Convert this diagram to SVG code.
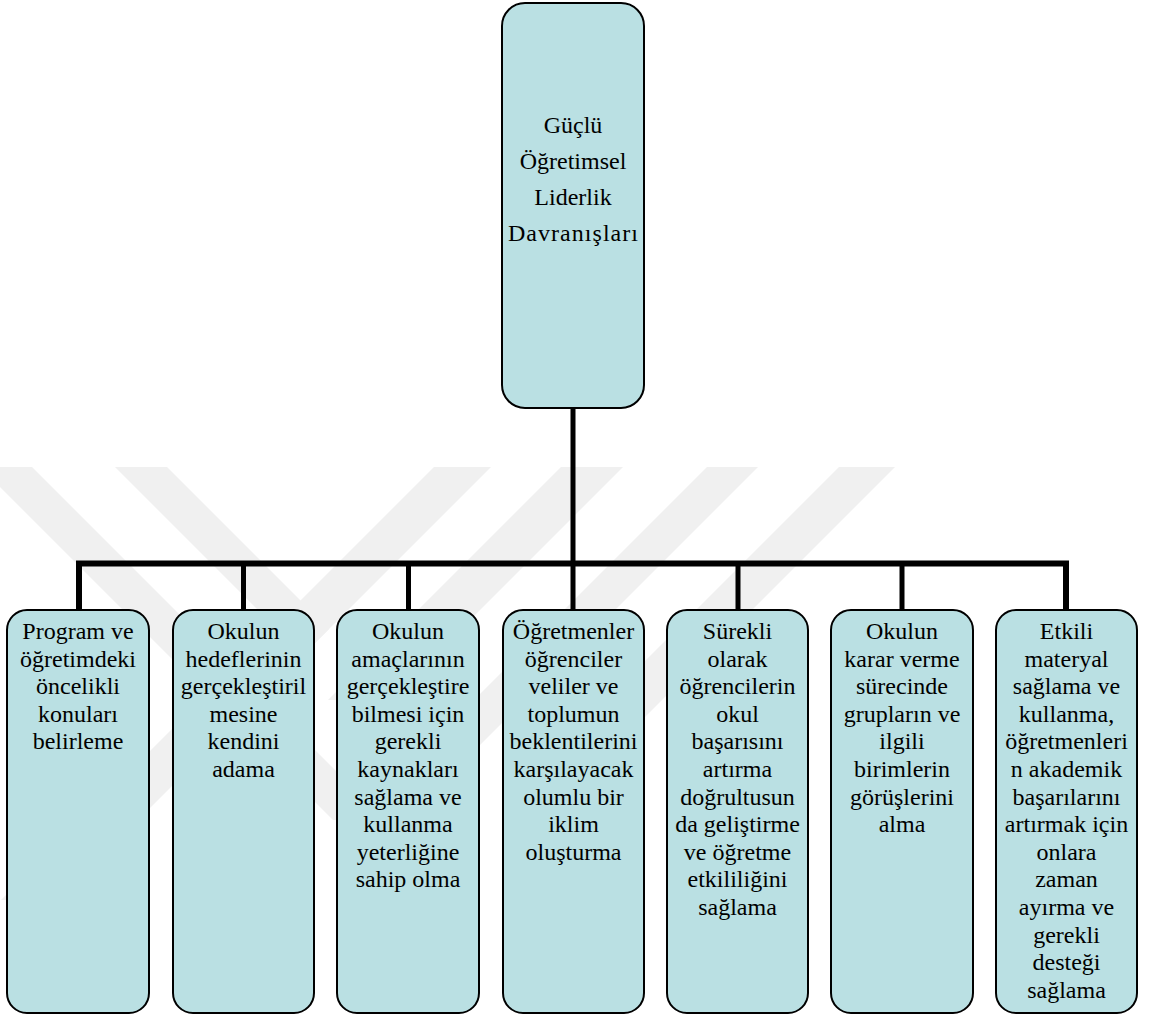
<svg xmlns="http://www.w3.org/2000/svg" width="1149" height="1017" viewBox="0 0 1149 1017">
<style>
.bg{fill:#ffffff}
.wm{fill:#f0f0f0}
.box{fill:#bae0e3;stroke:#000000;stroke-width:2}
.conn{fill:none;stroke:#000000;stroke-linejoin:miter}
.t{font-size:24px;fill:#000000;text-anchor:middle}
</style>
<rect class="bg" x="0" y="0" width="1149" height="1017"/>
<g id="watermark">
<polygon class="wm" points="-20,467 32,467 385,820 333,820"/>
<polygon class="wm" points="115,467 167,467 329,629 303,655"/>
<polygon class="wm" points="434,467 491,467 58,900 1,900"/>
<polygon class="wm" points="561,467 623,467 390,700 328,700"/>
<polygon class="wm" points="707,467 758,467 392,833 341,833"/>
<polygon class="wm" points="839,467 895,467 560,802 504,802"/>
</g>
<g id="connectors">
<path class="conn" stroke-width="5" d="M573,408 V563"/>
<path class="conn" stroke-width="6" d="M79,610 V563.5 H1066 V610"/>
<path class="conn" stroke-width="5" d="M243.5,563 V610 M408.5,563 V610 M573,563 V610 M738,563 V610 M902,563 V610"/>
</g>
<g font-family="'Liberation Serif', 'Times New Roman', 'DejaVu Serif', serif">
<g id="node-root">
<rect class="box" x="502" y="3" width="142" height="405" rx="23" ry="23"/>
<text class="t"><tspan x="573" y="132.5">Güçlü</tspan><tspan x="573" y="168.5">Öğretimsel</tspan><tspan x="573" y="204.5">Liderlik</tspan></text>
<text class="t" x="573" y="240.5" textLength="130" lengthAdjust="spacing">Davranışları</text>
</g>
<g id="node-1">
<rect class="box" x="7" y="610" width="142" height="403" rx="20" ry="20"/>
<text class="t"><tspan x="78" y="639">Program ve</tspan><tspan x="78" y="666.6">öğretimdeki</tspan><tspan x="78" y="694.2">öncelikli</tspan><tspan x="78" y="721.8">konuları</tspan><tspan x="78" y="749.4">belirleme</tspan></text>
</g>
<g id="node-2">
<rect class="box" x="173" y="610" width="141" height="403" rx="20" ry="20"/>
<text class="t"><tspan x="243.5" y="639">Okulun</tspan><tspan x="243.5" y="666.6">hedeflerinin</tspan><tspan x="243.5" y="694.2">gerçekleştiril</tspan><tspan x="243.5" y="721.8">mesine</tspan><tspan x="243.5" y="749.4">kendini</tspan><tspan x="243.5" y="777">adama</tspan></text>
</g>
<g id="node-3">
<rect class="box" x="337" y="610" width="142" height="403" rx="20" ry="20"/>
<text class="t"><tspan x="408" y="639">Okulun</tspan><tspan x="408" y="666.6">amaçlarının</tspan><tspan x="408" y="694.2">gerçekleştire</tspan><tspan x="408" y="721.8">bilmesi için</tspan><tspan x="408" y="749.4">gerekli</tspan><tspan x="408" y="777">kaynakları</tspan><tspan x="408" y="804.6">sağlama ve</tspan><tspan x="408" y="832.2">kullanma</tspan><tspan x="408" y="859.8">yeterliğine</tspan><tspan x="408" y="887.4">sahip olma</tspan></text>
</g>
<g id="node-4">
<rect class="box" x="503" y="610" width="141" height="403" rx="20" ry="20"/>
<text class="t"><tspan x="573.5" y="639">Öğretmenler</tspan><tspan x="573.5" y="666.6">öğrenciler</tspan><tspan x="573.5" y="694.2">veliler ve</tspan><tspan x="573.5" y="721.8">toplumun</tspan><tspan x="573.5" y="749.4">beklentilerini</tspan><tspan x="573.5" y="777">karşılayacak</tspan><tspan x="573.5" y="804.6">olumlu bir</tspan><tspan x="573.5" y="832.2">iklim</tspan><tspan x="573.5" y="859.8">oluşturma</tspan></text>
</g>
<g id="node-5">
<rect class="box" x="667" y="610" width="141" height="403" rx="20" ry="20"/>
<text class="t"><tspan x="737.5" y="639">Sürekli</tspan><tspan x="737.5" y="666.6">olarak</tspan><tspan x="737.5" y="694.2">öğrencilerin</tspan><tspan x="737.5" y="721.8">okul</tspan><tspan x="737.5" y="749.4">başarısını</tspan><tspan x="737.5" y="777">artırma</tspan><tspan x="737.5" y="804.6">doğrultusun</tspan><tspan x="737.5" y="832.2">da geliştirme</tspan><tspan x="737.5" y="859.8">ve öğretme</tspan><tspan x="737.5" y="887.4">etkililiğini</tspan><tspan x="737.5" y="915">sağlama</tspan></text>
</g>
<g id="node-6">
<rect class="box" x="831" y="610" width="142" height="403" rx="20" ry="20"/>
<text class="t"><tspan x="902" y="639">Okulun</tspan><tspan x="902" y="666.6">karar verme</tspan><tspan x="902" y="694.2">sürecinde</tspan><tspan x="902" y="721.8">grupların ve</tspan><tspan x="902" y="749.4">ilgili</tspan><tspan x="902" y="777">birimlerin</tspan><tspan x="902" y="804.6">görüşlerini</tspan><tspan x="902" y="832.2">alma</tspan></text>
</g>
<g id="node-7">
<rect class="box" x="996" y="610" width="141" height="403" rx="20" ry="20"/>
<text class="t"><tspan x="1066.5" y="639">Etkili</tspan><tspan x="1066.5" y="666.6">materyal</tspan><tspan x="1066.5" y="694.2">sağlama ve</tspan><tspan x="1066.5" y="721.8">kullanma,</tspan><tspan x="1066.5" y="749.4">öğretmenleri</tspan><tspan x="1066.5" y="777">n akademik</tspan><tspan x="1066.5" y="804.6">başarılarını</tspan><tspan x="1066.5" y="832.2">artırmak için</tspan><tspan x="1066.5" y="859.8">onlara</tspan><tspan x="1066.5" y="887.4">zaman</tspan><tspan x="1066.5" y="915">ayırma ve</tspan><tspan x="1066.5" y="942.6">gerekli</tspan><tspan x="1066.5" y="970.2">desteği</tspan><tspan x="1066.5" y="997.8">sağlama</tspan></text>
</g>
</g>
</svg>
